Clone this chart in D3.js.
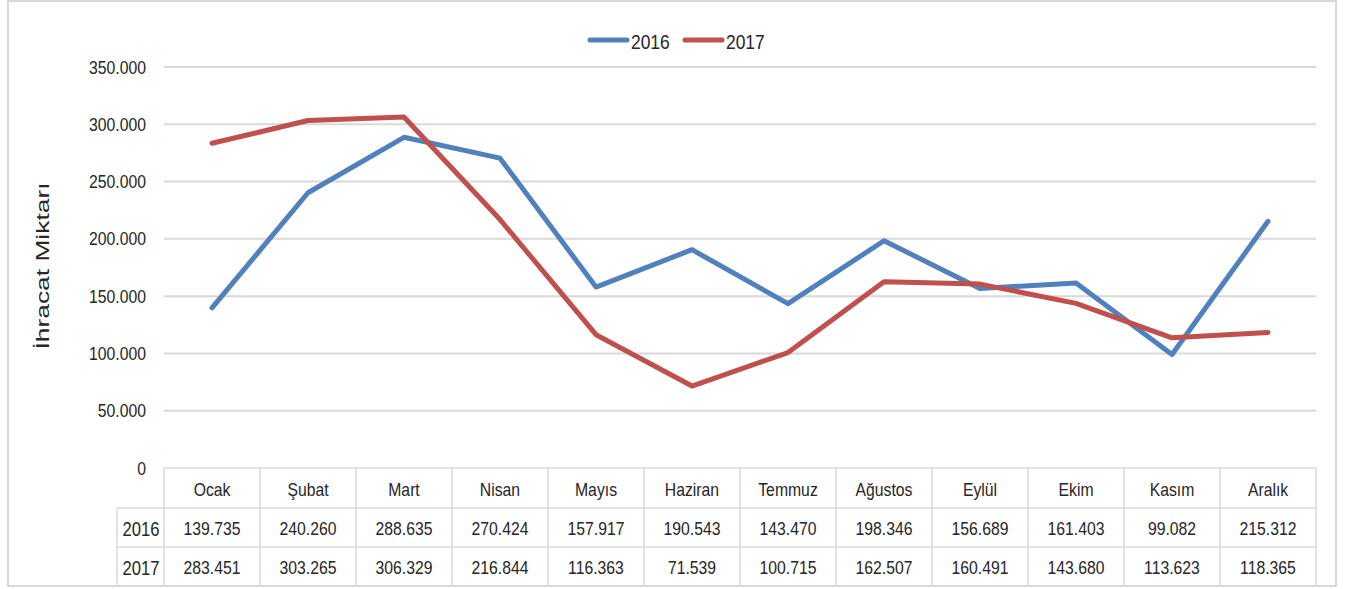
<!DOCTYPE html>
<html><head><meta charset="utf-8">
<script src="https://cdn.jsdelivr.net/npm/d3@7"></script>
<style>
html,body{margin:0;padding:0;background:#fff;}
svg{display:block;}
</style></head>
<body>
<svg id="c" width="1347" height="589"></svg>
<script>
const months = ["Ocak","Şubat","Mart","Nisan","Mayıs","Haziran","Temmuz","Ağustos","Eylül","Ekim","Kasım","Aralık"];
const values2016 = [139735,240260,288635,270424,157917,190543,143470,198346,156689,161403,99082,215312];
const values2017 = [283451,303265,306329,216844,116363,71539,100715,162507,160491,143680,113623,118365];
const seriesNames = ["2016","2017"];
const yTicks = [0,50000,100000,150000,200000,250000,300000,350000];
const yTitle = "İhracat Miktarı";

(function(){
const colors = {"2016":"#4f81bd","2017":"#c0504d"};
const series = [{name:seriesNames[0],values:values2016},{name:seriesNames[1],values:values2017}];
const font = "'Liberation Sans',Arial,sans-serif";
const SX = 0.83;
const grid = "#d9d9d9";
const ink = "#262626";

const svg = d3.select("#c");
const fmt = d3.formatLocale({decimal:",",thousands:".",grouping:[3],currency:["",""]}).format(",");

const pL = 164, pR = 1316, pT = 67, pB = 468;
const x = d3.scaleBand().domain(months).range([pL,pR]).padding(0);
const bw = x.bandwidth();
const cx = m => x(m) + bw/2;
const y = d3.scaleLinear().domain([0,350000]).range([pB,pT]);

function label(g, px, py, str, anchor, size){
  return g.append("text").attr("transform",`translate(${px},${py}) scale(${SX},1)`)
    .attr("text-anchor",anchor).attr("dy","0.36em")
    .attr("font-family",font).attr("font-size",size).attr("fill",ink).text(str);
}

// outer border
svg.append("rect").attr("x",8).attr("y",1).attr("width",1328).attr("height",585)
  .attr("fill","#fff").attr("stroke",grid).attr("stroke-width",2);

// gridlines
svg.append("g").selectAll("line").data(yTicks.filter(d=>d>0)).join("line")
  .attr("x1",pL).attr("x2",pR).attr("y1",d=>y(d)).attr("y2",d=>y(d))
  .attr("stroke",grid).attr("stroke-width",2);

// y axis labels
const yAxis = svg.append("g").attr("transform",`translate(${pL},0)`)
  .call(d3.axisLeft(y).tickValues(yTicks).tickFormat(fmt).tickSize(0).tickPadding(18));
yAxis.select(".domain").remove();
yAxis.selectAll("text").attr("font-family",font).attr("font-size",19).attr("fill",ink)
  .attr("dy","0.32em").attr("x",-18/SX).attr("transform",`scale(${SX},1)`);

// y title
svg.append("text").attr("transform","translate(49,266) rotate(-90)")
  .attr("text-anchor","middle").attr("font-family",font)
  .attr("font-size",19).attr("fill",ink).attr("textLength",167).attr("lengthAdjust","spacingAndGlyphs")
  .text(yTitle);

// table
const rowH = [468,508,547,586];
const yearLeft = 117;
const tg = svg.append("g").attr("stroke",grid).attr("stroke-width",1.5);
tg.append("line").attr("x1",pL).attr("x2",pR).attr("y1",rowH[0]).attr("y2",rowH[0]);
[1,2,3].forEach(i=>{
  tg.append("line").attr("x1",yearLeft).attr("x2",pR).attr("y1",rowH[i]).attr("y2",rowH[i]);
});
months.forEach(m=>{
  tg.append("line").attr("x1",x(m)).attr("x2",x(m)).attr("y1",rowH[0]).attr("y2",rowH[3]);
});
tg.append("line").attr("x1",pR).attr("x2",pR).attr("y1",rowH[0]).attr("y2",rowH[3]);
tg.append("line").attr("x1",yearLeft).attr("x2",yearLeft).attr("y1",rowH[1]).attr("y2",rowH[3]);

const tt = svg.append("g");
months.forEach(m=>{
  label(tt, cx(m), (rowH[0]+rowH[1])/2+1, m, "middle", 19);
});
series.forEach((s,i)=>{
  const yc = (rowH[i+1]+rowH[i+2])/2+1;
  label(tt, (yearLeft+pL)/2+0.5, yc, s.name, "middle", 20);
  s.values.forEach((v,j)=>{
    label(tt, cx(months[j]), yc, fmt(v), "middle", 19);
  });
});

// lines
const line = d3.line().x((d,i)=>cx(months[i])).y(d=>y(d));
series.forEach(s=>{
  svg.append("path").datum(s.values).attr("d",line).attr("fill","none")
    .attr("stroke",colors[s.name]).attr("stroke-width",5).attr("stroke-linejoin","round").attr("stroke-linecap","round");
});

// legend
const leg = [{name:seriesNames[0],x:588},{name:seriesNames[1],x:683}];
leg.forEach(l=>{
  svg.append("line").attr("x1",l.x+2).attr("x2",l.x+39).attr("y1",40).attr("y2",40)
    .attr("stroke",colors[l.name]).attr("stroke-width",5).attr("stroke-linecap","round");
  label(svg, l.x+43, 41, l.name, "start", 21);
});
})();
</script>
</body></html>
